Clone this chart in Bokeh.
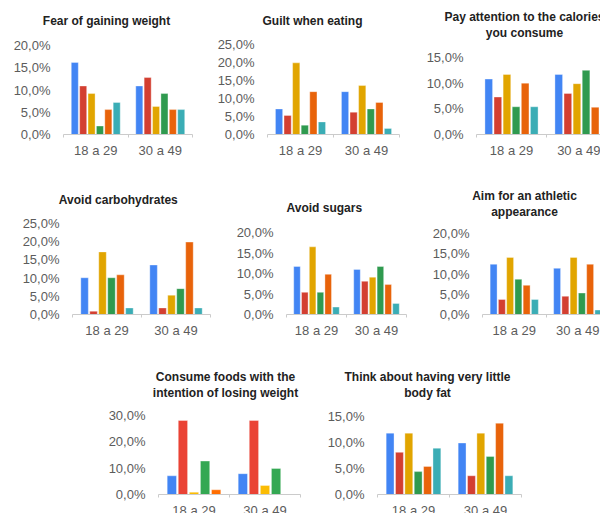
from bokeh.plotting import figure
from bokeh.models import Range1d, FixedTicker, ColumnDataSource, Title, Spacer
from bokeh.layouts import row, column
from bokeh.transform import dodge
from bokeh.embed import file_html
from bokeh.resources import INLINE

# ---------------- data ----------------
categories = ["18 a 29", "30 a 49"]

fear_18_29 = [16.2, 10.9, 9.2, 1.9, 5.6, 7.2]
fear_30_49 = [10.9, 12.8, 6.3, 9.2, 5.6, 5.6]
guilt_18_29 = [7.1, 5.3, 19.9, 2.6, 11.9, 3.5]
guilt_30_49 = [11.9, 6.2, 13.6, 7.1, 8.9, 1.7]
calories_18_29 = [10.8, 7.3, 11.7, 5.4, 10.0, 5.4]
calories_30_49 = [11.7, 8.0, 9.9, 12.5, 5.3, 1.7]
carbs_18_29 = [10.1, 0.9, 17.2, 10.1, 10.9, 1.8]
carbs_30_49 = [13.6, 1.8, 5.3, 7.1, 19.9, 1.8]
sugars_18_29 = [11.7, 5.4, 16.5, 5.4, 9.8, 1.8]
sugars_30_49 = [11.0, 8.1, 9.1, 11.7, 7.3, 2.7]
athletic_18_29 = [12.4, 3.7, 14.1, 8.7, 7.2, 3.7]
athletic_30_49 = [11.4, 4.5, 14.1, 5.3, 12.4, 1.1]
losing_18_29 = [7.1, 28.1, 0.9, 12.7, 1.8]
losing_30_49 = [7.9, 28.1, 3.4, 9.9, 0.0]
bodyfat_18_29 = [11.8, 8.1, 11.8, 4.4, 5.4, 8.9]
bodyfat_30_49 = [9.9, 3.6, 11.8, 7.3, 13.7, 3.6]

titles = [
    "Fear of gaining weight",
    "Guilt when eating",
    "Pay attention to the calories\nyou consume",
    "Avoid carbohydrates",
    "Avoid sugars",
    "Aim for an athletic\nappearance",
    "Consume foods with the\nintention of losing weight",
    "Think about having very little\nbody fat",
]
series_pairs = [
    (fear_18_29, fear_30_49),
    (guilt_18_29, guilt_30_49),
    (calories_18_29, calories_30_49),
    (carbs_18_29, carbs_30_49),
    (sugars_18_29, sugars_30_49),
    (athletic_18_29, athletic_30_49),
    (losing_18_29, losing_30_49),
    (bodyfat_18_29, bodyfat_30_49),
]
y_ticks = [
    [0, 5, 10, 15, 20],
    [0, 5, 10, 15, 20, 25],
    [0, 5, 10, 15],
    [0, 5, 10, 15, 20, 25],
    [0, 5, 10, 15, 20],
    [0, 5, 10, 15, 20],
    [0, 10, 20, 30],
    [0, 5, 10, 15],
]

# ---------------- styles / layout ----------------
muted = ["#4285f4", "#d33f31", "#e1a500", "#2f9a4f", "#e8630a", "#3badb5"]
bright = ["#4285f4", "#ea4335", "#fbbc04", "#34a853", "#ff6d01", "#46bdc6"]
palettes = [muted, muted, muted, muted, muted, muted, bright, muted]

# cell (x0, y0, x1, y1), frame left, px per category, y of top tick, baseline,
# title centre x, target y of the last title line
ROW3_BOTTOM = 520  # row 3 canvases run a little past the window; the page clips them
layout_cfg = [
    dict(cell=(0, 0, 205, 170), fl=63, cp=64.5, ft=45, fb=134, tcx=106, ty=20),
    dict(cell=(205, 0, 410, 170), fl=267, cp=66, ft=44, fb=134, tcx=312, ty=20),
    dict(cell=(410, 0, 600, 170), fl=476, cp=70, ft=57, fb=134, tcx=524, ty=33.5),
    dict(cell=(0, 170, 220, 350), fl=72, cp=69, ft=223, fb=314, tcx=118, ty=199),
    dict(cell=(220, 170, 415, 350), fl=286, cp=60, ft=232, fb=314, tcx=324, ty=207),
    dict(cell=(415, 170, 600, 350), fl=482, cp=63.5, ft=233, fb=314, tcx=524, ty=212),
    dict(cell=(90, 350, 315, ROW3_BOTTOM), fl=158, cp=71, ft=415, fb=495, tcx=225, ty=392),
    dict(cell=(315, 350, 600, ROW3_BOTTOM), fl=377, cp=72, ft=416, fb=495, tcx=427, ty=392),
]
# plots in one row share the frame top: use the highest one of the row
row_top = {}
for c in layout_cfg:
    y0 = c["cell"][1]
    row_top[y0] = min(row_top.get(y0, 10 ** 6), c["ft"])

FONT = "Liberation Sans"
LABEL_COLOR = "#5c5c5c"
AXIS_COLOR = "#cbcbcb"
TITLE_SIZE = 12
TITLE_LINE = 16.0      # height of one title panel
SPACER_SIZE = 2
SPACER_BASE = 2 + SPACER_SIZE * 14.0 / 12.0

# Arial/Liberation Sans Bold advance widths (per 1000 em) for centring titles
W_BOLD = {" ": 278, "A": 722, "C": 722, "F": 611, "G": 778, "P": 667, "T": 611,
          "a": 556, "b": 611, "c": 556, "d": 611, "e": 556, "f": 333, "g": 611,
          "h": 611, "i": 278, "k": 556, "l": 278, "m": 889, "n": 611, "o": 611,
          "p": 611, "r": 389, "s": 556, "t": 333, "u": 611, "v": 556, "w": 778,
          "y": 556}


def text_width(s, size):
    return sum(W_BOLD.get(c, 556) for c in s) * size / 1000.0


def make_chart(idx):
    cfg = layout_cfg[idx]
    x0, y0, x1, y1 = cfg["cell"]
    w, h = x1 - x0, y1 - y0
    fl, cp, ft, fb = cfg["fl"], cfg["cp"], cfg["ft"], cfg["fb"]
    top = row_top[y0]
    ncat = len(categories)
    fr = min(fl + cp * ncat, x1)
    xend = (fr - fl) / cp
    yt = y_ticks[idx]
    ymax = yt[-1]
    ppu = (fb - ft) / ymax
    yend = ymax + (ft - top) / ppu

    p = figure(width=w, height=h, x_range=Range1d(0, xend), y_range=Range1d(0, yend),
               output_backend="svg", toolbar_location=None, tools="",
               title_location=None,
               min_border_left=int(fl - x0), min_border_right=int(round(x1 - fr)),
               min_border_top=int(top - y0), min_border_bottom=int(y1 - fb))
    p.outline_line_color = None
    p.xgrid.visible = False
    p.ygrid.visible = False
    p.background_fill_color = "white"
    p.border_fill_color = "white"

    a, b = series_pairs[idx]
    nser = len(a)
    cat_pos = [i + 0.5 for i in range(ncat)]
    data = {"x": cat_pos, "cat": categories}
    for k in range(nser):
        data["s%d" % k] = [a[k], b[k]]
    src = ColumnDataSource(data)

    group = 0.78
    pitch = group / nser
    bw = pitch * 0.84
    cols = palettes[idx]
    for k in range(nser):
        p.vbar(x=dodge("x", (k - (nser - 1) / 2) * pitch), top="s%d" % k, width=bw,
               source=src, fill_color=cols[k], line_color="white", line_alpha=0.35,
               line_width=1)

    # x axis: baseline, separator ticks, category labels
    xa = p.xaxis[0]
    xa.ticker = FixedTicker(ticks=cat_pos, minor_ticks=list(range(ncat + 1)))
    xa.major_label_overrides = {pos: cat for pos, cat in zip(cat_pos, categories)}
    xa.axis_line_color = AXIS_COLOR
    xa.minor_tick_line_color = AXIS_COLOR
    xa.minor_tick_out = 3
    xa.minor_tick_in = 0
    xa.major_tick_line_color = None
    xa.major_tick_out = 0
    xa.major_tick_in = 0
    xa.major_label_standoff = 5
    xa.major_label_text_font = FONT
    xa.major_label_text_font_size = "13px"
    xa.major_label_text_color = LABEL_COLOR

    ya = p.yaxis[0]
    ya.ticker = FixedTicker(ticks=yt)
    ya.major_label_overrides = {t: ("%.1f%%" % t).replace(".", ",") for t in yt}
    ya.axis_line_color = None
    ya.major_tick_line_color = None
    ya.minor_tick_line_color = None
    ya.major_tick_out = 0
    ya.major_label_standoff = 13
    ya.major_label_text_font = FONT
    ya.major_label_text_font_size = "13px"
    ya.major_label_text_color = LABEL_COLOR

    # titles: spacer panel next to the frame, then the lines (last line first)
    s0 = max(0, int(round(top - cfg["ty"] - TITLE_LINE / 2 - SPACER_BASE)))
    p.add_layout(Title(text=" ", standoff=s0, align="left", text_font=FONT,
                       text_font_size="%dpx" % SPACER_SIZE), "above")
    for line in reversed(titles[idx].split("\n")):
        off = cfg["tcx"] - text_width(line, TITLE_SIZE) / 2 - fl
        p.add_layout(Title(text=line, align="left", offset=off, standoff=0,
                           vertical_align="middle", text_font=FONT,
                           text_font_style="bold", text_font_size="%dpx" % TITLE_SIZE,
                           text_color="#222222"), "above")
    return p


charts = [make_chart(i) for i in range(8)]

page = column(
    row(charts[0], charts[1], charts[2]),
    row(charts[3], charts[4], charts[5]),
    row(Spacer(width=90, height=ROW3_BOTTOM - 350), charts[6], charts[7]),
    width=600, height=513, styles={"overflow": "hidden"},
)

open("out.html", "w").write(file_html(page, INLINE))
